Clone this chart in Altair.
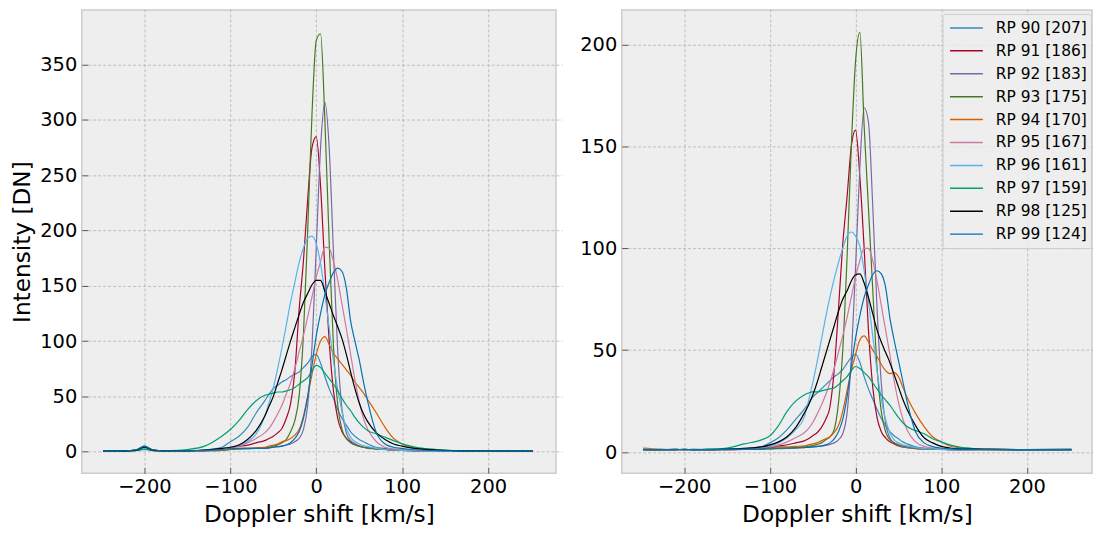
import altair as alt
import pandas as pd

# Doppler shift grid [km/s]
V = [-248, -230, -210, -200, -190, -170, -150, -130, -110, -100,
     -90, -80, -70, -60, -55, -50, -45, -40, -35, -30,
     -25, -20, -15, -10, -5, 0, 5, 10, 15, 20,
     25, 30, 35, 40, 45, 50, 55, 60, 70, 80,
     90, 100, 110, 120, 140, 160, 200, 252]

LABELS = ["RP 90 [207]", "RP 91 [186]", "RP 92 [183]", "RP 93 [175]", "RP 94 [170]",
          "RP 95 [167]", "RP 96 [161]", "RP 97 [159]", "RP 98 [125]", "RP 99 [124]"]
COLORS = ["#348ABD", "#A60628", "#7A68A6", "#467821", "#D55E00",
          "#CC79A7", "#56B4E9", "#009E73", "#000000", "#0072B2"]

# Left panel intensities [DN]
L90 = [0.5, 0.6, 1.5, 5, 1.5, 0.6, 0.8, 1.5, 4, 9, 14, 22, 35, 46, 52, 57, 60, 63, 65, 68,
       70, 72, 76, 80, 86, 88, 80, 68, 57, 48, 38, 30, 24, 18, 14, 11, 9, 7, 4, 3,
       2, 1.5, 1.2, 1, 0.8, 0.6, 0.6, 0.5]
L91 = [0.5, 0.5, 1.5, 4, 1.5, 0.5, 0.6, 1, 2, 4, 5, 6, 8, 10, 12, 14, 17, 21, 30, 43,
       72, 128, 172, 228, 275, 285, 240, 165, 100, 55, 30, 18, 12, 9, 7, 5, 4, 3.5, 2.5, 2,
       1.5, 1.2, 1, 0.8, 0.6, 0.5, 0.5, 0.5]
L92 = [0.5, 0.5, 1.2, 3, 1.2, 0.5, 0.5, 0.8, 1.2, 2, 2.5, 2.5, 3, 3, 3.5, 4, 4.5, 5, 6, 7,
       9, 12, 20, 42, 95, 185, 275, 316, 275, 180, 90, 38, 17, 10, 7, 5, 4, 3, 2.5, 2,
       1.5, 1.2, 1, 0.8, 0.6, 0.5, 0.5, 0.5]
L93 = [0.5, 0.5, 1.2, 3, 1.2, 0.5, 0.5, 0.8, 1.2, 2, 2.5, 3, 3, 3.5, 4, 5, 6, 8, 11, 18,
       28, 50, 105, 200, 305, 372, 378, 300, 190, 95, 42, 20, 12, 8, 6, 5, 4, 3.5, 2.5, 2,
       1.5, 1.2, 1, 0.8, 0.6, 0.5, 0.5, 0.5]
L94 = [0.5, 0.5, 1.2, 3, 1.2, 0.5, 0.6, 1, 1.5, 2.5, 3, 3, 3.5, 4, 5, 6, 7, 9, 10, 12,
       15, 20, 32, 50, 70, 88, 100, 104, 97, 89, 84, 79, 74, 69, 63, 58, 53, 47, 35, 22,
       12, 7, 4, 2.5, 1.5, 1, 0.6, 0.5]
L95 = [0.5, 0.5, 1.2, 3, 1.2, 0.5, 0.6, 1, 2, 3, 5, 8, 12, 17, 21, 27, 34, 42, 52, 62,
       75, 90, 105, 122, 140, 158, 172, 185, 184, 172, 155, 133, 111, 88, 65, 45, 30, 20, 9, 4,
       2.5, 1.8, 1.3, 1, 0.7, 0.5, 0.5, 0.5]
L96 = [0.5, 0.5, 1.2, 3, 1.2, 0.6, 0.8, 1.5, 2.5, 4, 6, 9, 16, 32, 44, 58, 75, 94, 114, 135,
       153, 171, 184, 193, 195, 188, 170, 143, 112, 82, 56, 36, 21, 13, 9, 7, 5.5, 4.5, 3, 2,
       1.5, 1.2, 1, 0.8, 0.6, 0.5, 0.5, 0.5]
L97 = [0.5, 0.5, 1, 2, 1, 1, 2, 5, 14, 20, 28, 38, 46, 51, 52, 53, 54, 54, 55, 56,
       58, 61, 64, 67, 73, 78, 76, 71, 66, 61, 55, 48, 42, 37, 31, 26, 22, 19, 16, 13,
       10, 7, 5, 3.5, 2, 1, 0.6, 0.5]
L98 = [0.5, 0.5, 1.2, 4, 1.2, 0.6, 0.8, 1.5, 3, 4, 6, 11, 19, 32, 41, 50, 62, 74, 87, 100,
       112, 124, 135, 143, 151, 155, 155, 145, 134, 123, 113, 102, 88, 72, 57, 44, 34, 27, 17, 11,
       7, 5, 3.5, 2.5, 1.5, 1, 0.6, 0.5]
L99 = [0.5, 0.5, 1.5, 5, 1.5, 0.6, 0.8, 1.2, 2, 3, 3, 3, 3, 3, 3.5, 4, 4.5, 5, 6, 8,
       12, 18, 30, 50, 78, 105, 125, 142, 153, 162, 166, 163, 148, 118, 100, 83, 63, 45, 17, 7,
       4, 3, 2, 1.5, 1, 0.7, 0.6, 0.5]

# Right panel intensities [DN]
R90 = [1.3, 1.2, 1.3, 1.2, 1.3, 1.2, 1.3, 1.6, 2.6, 4.5, 7, 11, 16, 21, 24, 27, 29, 31, 33, 35,
       37, 38.5, 40.5, 43.5, 46.5, 48, 44, 37, 31, 26, 21, 16.5, 13, 10, 8, 6.5, 5, 4, 2.6, 2,
       1.6, 1.4, 1.3, 1.2, 1.2, 1.3, 1.2, 1.3]
R91 = [1.3, 1.2, 1.3, 1.2, 1.2, 1.3, 1.2, 1.3, 1.6, 2.4, 3, 3.6, 4.5, 5.5, 6.5, 8, 9.5, 12, 16, 22,
       40, 70, 102, 125, 150, 158, 135, 100, 60, 32, 17, 10, 7, 5, 4, 3, 2.5, 2.2, 1.7, 1.5,
       1.4, 1.3, 1.2, 1.2, 1.2, 1.2, 1.2, 1.2]
R92 = [1.2, 1.2, 1.2, 1.2, 1.2, 1.2, 1.2, 1.3, 1.4, 1.6, 1.7, 1.8, 2, 2.2, 2.3, 2.5, 2.7, 2.9, 3.3, 3.8,
       4.5, 6, 9, 19, 46, 91, 140, 169, 162, 121, 71, 34, 14, 7, 4.5, 3.2, 2.6, 2.2, 1.8, 1.5,
       1.4, 1.3, 1.2, 1.2, 1.2, 1.2, 1.2, 1.2]
R93 = [1.2, 1.2, 1.2, 1.2, 1.2, 1.2, 1.2, 1.3, 1.4, 1.6, 1.8, 2, 2.2, 2.5, 2.8, 3.2, 3.8, 4.5, 6, 7.5,
       11, 24, 50, 95, 150, 192, 206, 160, 120, 80, 42, 20, 10, 6, 4.5, 3.5, 3, 2.6, 2, 1.6,
       1.4, 1.3, 1.2, 1.2, 1.2, 1.2, 1.2, 1.2]
R94 = [2, 1.5, 1.2, 1.2, 1.3, 1.2, 1.3, 1.5, 1.8, 2.2, 2.5, 2.6, 2.8, 3, 3.5, 4, 4.5, 5.5, 6.5, 7.5,
       9.5, 13, 20, 30, 40, 48, 55, 57, 54, 50, 47, 43, 40, 38.5, 39, 37, 32, 27, 19, 12.5,
       7.5, 5, 3, 2.2, 1.6, 1.4, 1.2, 1.3]
R95 = [1.2, 1.2, 1.2, 1.2, 1.2, 1.2, 1.3, 1.5, 2, 2.5, 3.5, 5, 7, 9.5, 11.5, 14.5, 18.5, 23, 28, 34,
       41, 49, 57, 66, 76, 86, 94, 100, 100, 94, 84, 72, 60, 48, 35, 24.5, 16.5, 11, 5, 2.8,
       2, 1.6, 1.4, 1.3, 1.2, 1.2, 1.2, 1.2]
R96 = [1.2, 1.2, 1.2, 1.3, 1.2, 1.3, 1.4, 1.8, 2.5, 3, 4.5, 7, 11, 17, 25, 34, 44, 55, 66, 76,
       85, 93, 100, 106, 108, 106, 101, 89, 74, 57, 40, 26, 16, 9.5, 6, 4.5, 3.5, 3, 2.2, 1.7,
       1.5, 1.3, 1.2, 1.2, 1.2, 1.2, 1.2, 1.2]
R97 = [1.3, 1.2, 1.2, 1.3, 1.2, 1.5, 2, 4, 6, 8, 13, 20, 25, 28, 29, 29.5, 29.5, 30, 30.5, 31,
       31.5, 33, 35, 37, 40, 42, 41, 39, 37, 34, 31, 28, 25.5, 23, 20, 17, 14.5, 12.5, 10.5, 9,
       6.5, 5, 3.5, 2.5, 1.6, 1.3, 1.2, 1.2]
R98 = [1.2, 1.2, 1.2, 1.3, 1.2, 1.2, 1.4, 1.8, 2.5, 3.5, 5, 7.5, 12, 19, 23, 28, 34, 41, 48, 55,
       62, 69, 75, 79, 84, 87, 87.5, 83, 76, 68, 60, 54, 49, 44, 38, 32, 26, 21, 13, 7,
       4.5, 2.8, 2, 1.6, 1.4, 1.3, 1.2, 1.2]
R99 = [1.2, 1.2, 1.3, 1.2, 1.2, 1.2, 1.3, 1.4, 1.6, 2, 2, 2, 2, 2.2, 2.3, 2.5, 2.8, 3, 3.5, 4.5,
       6.5, 10, 16, 27, 42, 56, 67, 76, 82, 87, 89, 87.5, 81, 66, 55, 45, 35, 25, 10, 4.5,
       2.7, 2, 1.6, 1.4, 1.3, 1.2, 1.2, 1.3]

LEFT = [L90, L91, L92, L93, L94, L95, L96, L97, L98, L99]
RIGHT = [R90, R91, R92, R93, R94, R95, R96, R97, R98, R99]

X_TICKS = [-200, -100, 0, 100, 200]
Y_TICKS_L = [0, 50, 100, 150, 200, 250, 300, 350]
Y_TICKS_R = [0, 50, 100, 150, 200]


def frame(series):
    rows = []
    for k, (lab, vals) in enumerate(zip(LABELS, series)):
        for v, y in zip(V, vals):
            rows.append({"v": v, "I": y, "series": lab, "k": k})
    return pd.DataFrame(rows)


legend = alt.Legend(
    title=None, orient="none", legendX=864, legendY=4,
    symbolType="stroke", symbolSize=1089, symbolStrokeWidth=1.5, symbolOffset=3,
    labelFont="DejaVu Sans", labelFontSize=15.5, labelColor="#000000",
    labelOffset=12, clipHeight=21, rowPadding=2, padding=3.5,
    fillColor="rgba(238,238,238,0.8)", strokeColor="#cccccc", cornerRadius=3,
)


def panel(df, xdom, ydom, yticks, ytitle, w, h):
    yaxis = alt.Axis(values=yticks, title=ytitle) if ytitle else alt.Axis(values=yticks, title=None)
    return alt.Chart(df).mark_line(strokeWidth=1.2, interpolate="monotone", clip=True).encode(
        x=alt.X("v:Q", scale=alt.Scale(domain=xdom, nice=False, zero=False),
                axis=alt.Axis(values=X_TICKS, title="Doppler shift [km/s]")),
        y=alt.Y("I:Q", scale=alt.Scale(domain=ydom, nice=False, zero=False), axis=yaxis),
        color=alt.Color("series:N", scale=alt.Scale(domain=LABELS, range=COLORS), legend=legend),
        detail="k:N",
    ).properties(width=w, height=h)


left = panel(frame(LEFT), [-273, 279], [-19.5, 399.5], Y_TICKS_L, "Intensity [DN]", 476, 465)
right = panel(frame(RIGHT), [-273, 276], [-10.4, 217], Y_TICKS_R, None, 472, 465)

chart = alt.hconcat(left, right, spacing=22).properties(
    padding={"left": 2, "top": 0, "right": 0, "bottom": 0},
    background="#ffffff",
).configure_view(
    fill="#eeeeee", stroke="#cccccc", strokeWidth=1.5,
).configure_axis(
    labelFont="DejaVu Sans", labelFontSize=19.5, labelColor="#000000",
    titleFont="DejaVu Sans", titleFontSize=23.3, titleColor="#000000", titleFontWeight="normal",
    grid=True, gridColor="#b2b2b2", gridDash=[3, 2], gridWidth=0.8,
    domain=False, ticks=True, tickSize=6, tickColor="#555555", tickWidth=1, offset=-6,
    labelPadding=5,
).configure_axisY(
    titlePadding=5,
).configure_axisX(
    titlePadding=8, labelPadding=4,
)

chart.save("out.html", embed_options={"renderer": "svg", "actions": False})
